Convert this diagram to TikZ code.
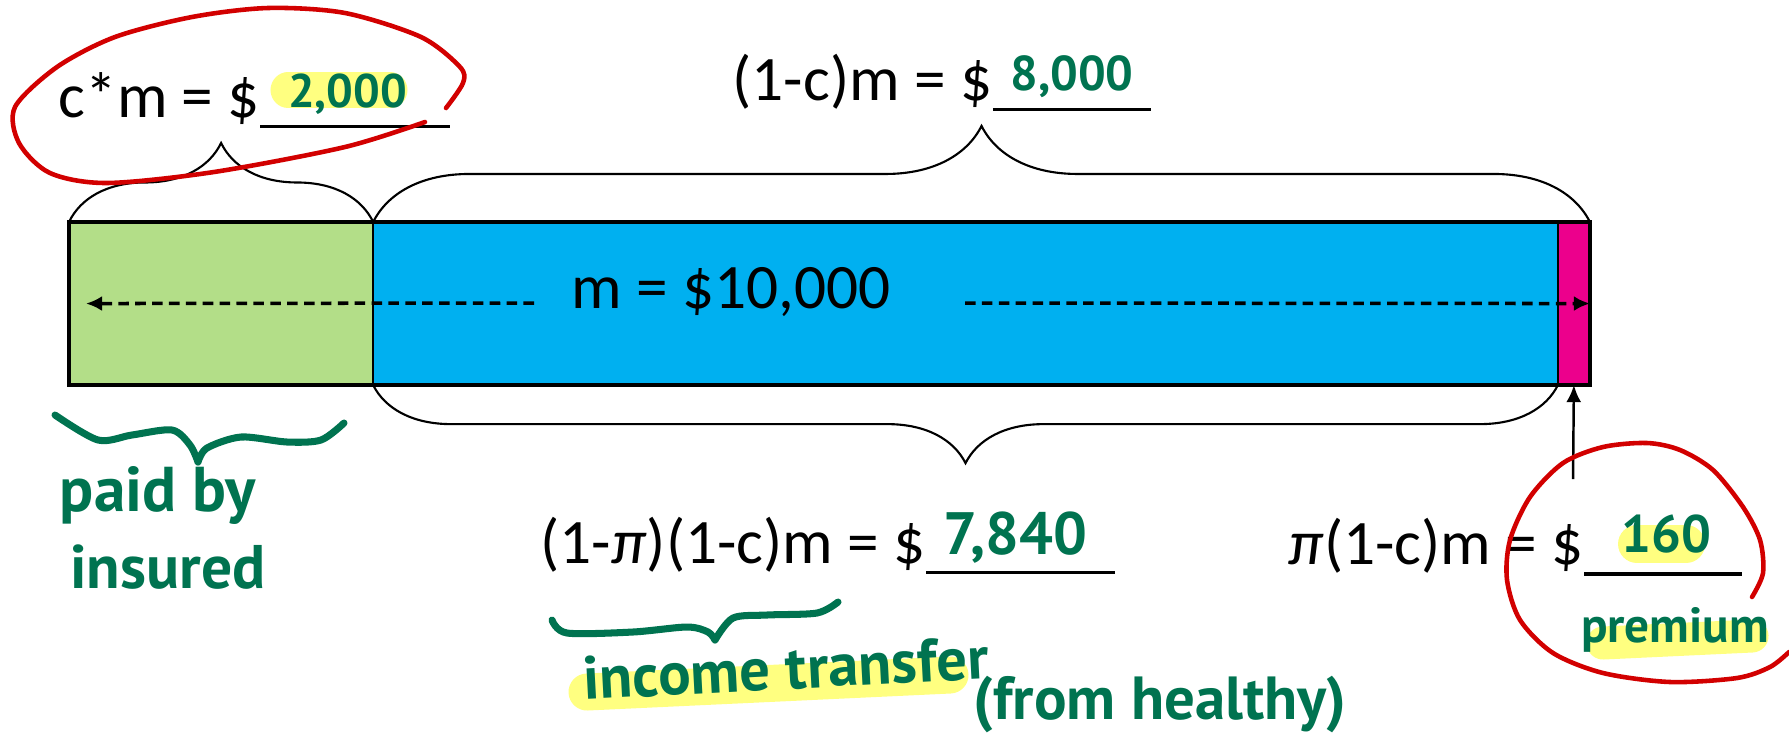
\documentclass[tikz,border=0pt]{standalone}
\usepackage{fontspec}
\usepackage{tikz}
\usepackage{xcolor}
\usetikzlibrary{arrows.meta,positioning,calc,decorations.pathreplacing}
\setmainfont{Carlito}
\newfontfamily\handfont{PT Sans}
\definecolor{PaidGreen}{RGB}{179,222,136}
\definecolor{CoverBlue}{RGB}{0,176,240}
\definecolor{PremMagenta}{RGB}{236,0,140}
\definecolor{InkGreen}{RGB}{0,115,80}
\definecolor{MarkRed}{RGB}{210,0,0}
\definecolor{HiYellow}{RGB}{255,255,128}

\begin{document}
\begin{tikzpicture}[x=0.01cm, y=-0.01cm,
  barpart/.style={draw, line width=0.6pt, minimum height=1.63cm, inner sep=0pt, outer sep=0pt},
  bracestyle/.style={decorate, line width=0.6pt},
  formula/.style={font=\fontsize{18}{22}\selectfont, inner sep=0pt, anchor=base west},
  blankline/.style={line width=1pt},
  flowarrow/.style={dashed, dash pattern=on 3pt off 1.8pt, line width=1pt, -{Latex[length=0.16cm,width=0.15cm]}},
  hand/.style={font=\handfont\bfseries\fontsize{#1}{#1}\selectfont, text=InkGreen, inner sep=0pt, anchor=base},
  inkline/.style={InkGreen, line width=2pt, line cap=round, line join=round},
  redloop/.style={MarkRed, line width=1.3pt, line cap=round},
  hilite/.style={HiYellow, line cap=round}]
\useasboundingbox (0,0) rectangle (1789,739);

\node[barpart, fill=PaidGreen, minimum width=3.04cm, anchor=north west] (paidpart) at (69,222) {};
\node[barpart, fill=CoverBlue, minimum width=11.84cm, right=0pt of paidpart] (coveredpart) {};
\node[barpart, fill=PremMagenta, minimum width=0.32cm, right=0pt of coveredpart] (premiumpart) {};
\draw[line width=1pt] (paidpart.north west) rectangle (premiumpart.south east);

\draw[bracestyle, decoration={brace, amplitude=0.79cm}] (paidpart.north west) -- (paidpart.north east);
\draw[bracestyle, decoration={brace, amplitude=0.96cm}] (coveredpart.north west) -- (premiumpart.north east);
\draw[bracestyle, decoration={brace, amplitude=0.78cm}] (coveredpart.south east) -- (coveredpart.south west);

\node[formula] (cmlabel) at (58,117) {c*m = \$};
\node[formula] (restlabel) at (732,100) {(1-c)m = \$};
\node[formula] (mlabel) at (571,308) {m = \$10,000};
\node[formula] (transferlabel) at (540,563) {(1-\textit{π})(1-c)m = \$};
\node[formula] (premiumlabel) at (1288,564) {\textit{π}(1-c)m = \$};

\draw[blankline] ([yshift=-0.095cm]cmlabel.base east) -- ++(189,0);
\draw[blankline] ([yshift=-0.095cm]restlabel.base east) -- ++(158,0);
\draw[blankline] ([yshift=-0.095cm]transferlabel.base east) -- ++(189,0);
\draw[blankline] ([yshift=-0.1cm]premiumlabel.base east) -- ++(158,0);

\coordinate (lefttail) at (534,303);
\coordinate (righttail) at (965,303);
\coordinate (premiumfoot) at (1573,479);
\draw[flowarrow] (lefttail) -- ([xshift=0.17cm]paidpart.west);
\draw[flowarrow] (righttail) -- (premiumpart.east);
\draw[-{Latex[length=0.17cm,width=0.15cm]}, line width=0.7pt] (premiumfoot) -- (premiumpart.south);

\draw[hilite, line width=0.35cm] (288,90) -- (390,90);
\draw[hilite, line width=0.38cm] (1637,544) -- (1686,544);
\draw[hilite, line width=0.33cm] (1603,643) -- (1752,636);
\draw[hilite, line width=0.37cm] (587,692) -- (950,675);

\node[hand=13.4] (cmvalue) at ([xshift=0.87cm, yshift=0.09cm]cmlabel.base east) {2,000};
\node[hand=13.9] (restvalue) at ([xshift=0.79cm, yshift=0.09cm]restlabel.base east) {8,000};
\node[hand=17] (transfervalue) at ([xshift=0.89cm, yshift=0.09cm]transferlabel.base east) {7,840};
\node[hand=15] (premiumvalue) at ([xshift=0.82cm, yshift=0.12cm]premiumlabel.base east) {160};
\node[hand=14, anchor=center] (premiumnote) at (1675,630) {premium};
\node[hand=18, anchor=center] (paidnote) at (158,495) {paid by};
\node[hand=17.5, anchor=center] (insurednote) at (168,567) {insured};
\node[hand=17.3, anchor=center, rotate=3] (transfernote) at (786,668) {income transfer};
\node[hand=17.3, anchor=center] (healthynote) at (1160,705) {(from healthy)};

\draw[inkline] plot[smooth] coordinates {(55,415) (98,440) (132,435) (172,430) (190,445) (198,462)};
\draw[inkline] plot[smooth] coordinates {(198,462) (207,448) (241,437) (287,442) (321,440) (344,423)};
\draw[inkline] plot[smooth] coordinates {(552,620) (567,633) (633,632) (687,627) (708,632) (715,640)};
\draw[inkline] plot[smooth] coordinates {(715,640) (733,618) (767,615) (817,613) (838,602)};

\draw[redloop] plot[smooth] coordinates {(446,108) (463,83) (460,67) (421,37) (345,13) (268,8) (192,17) (115,37) (57,67) (15,107) (19,143) (50,173) (107,183) (214,172) (345,147) (425,122)};
\draw[redloop] plot[smooth] coordinates {(1752,597) (1763,573) (1760,540) (1743,507) (1713,470) (1680,450) (1647,443) (1603,447) (1563,463) (1530,497) (1510,540) (1507,580) (1520,620) (1553,653) (1603,673) (1670,682) (1737,678) (1770,667) (1789,652)};
\end{tikzpicture}
\end{document}
